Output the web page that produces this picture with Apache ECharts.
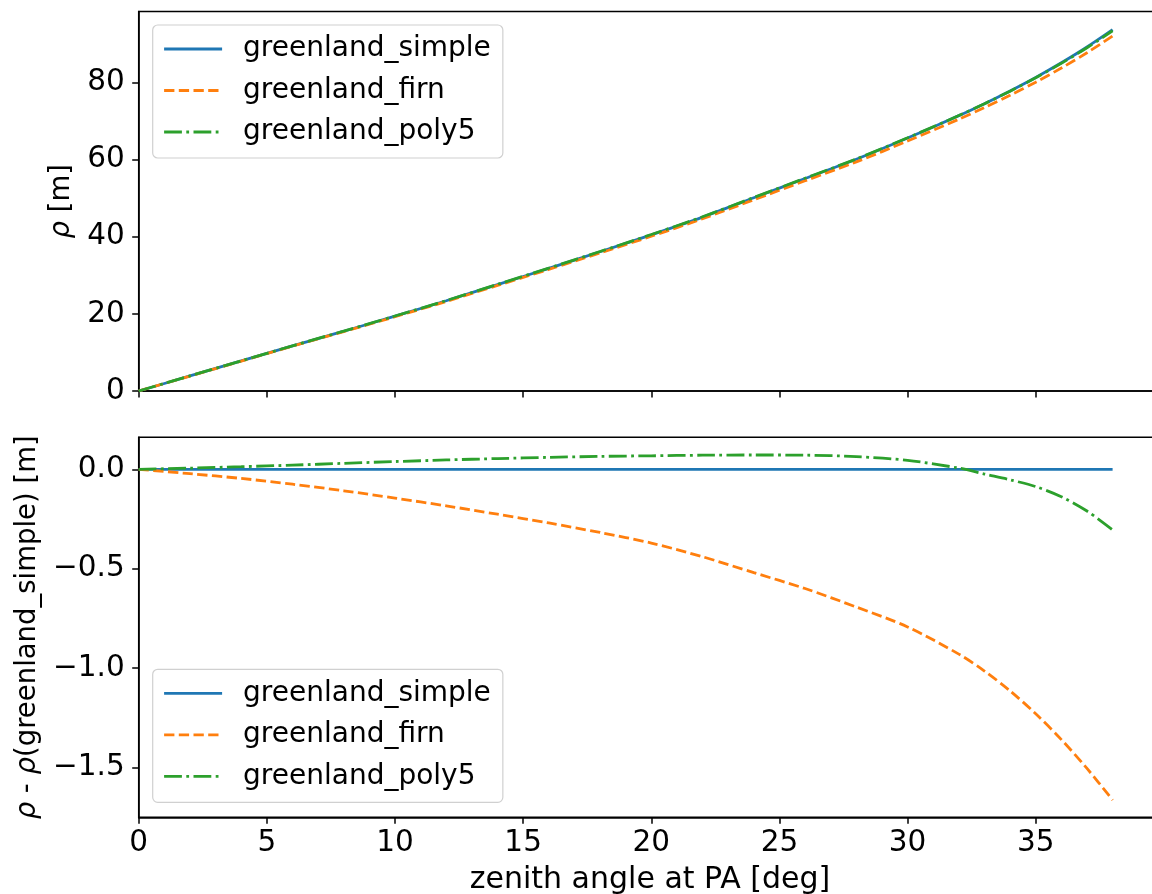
<!DOCTYPE html>
<html>
<head>
<meta charset="utf-8">
<script src="https://cdn.jsdelivr.net/npm/echarts@6/dist/echarts.min.js"></script>
<style>html,body{margin:0;padding:0;background:#fff;}#c{width:1152px;height:894px;}</style>
</head>
<body>
<div id="c"></div>
<script>
// zenith angle at PA [deg]
const zenith = [0,2,4,6,8,10,12,14,16,18,20,22,24,26,28,30,32,33,34,35,36,37,38];
// top panel: rho [m]
const rhoSimple = [0,3.9,7.8,11.7,15.5,19.4,23.4,27.6,31.8,36.1,40.5,45.1,50.1,55.1,60.1,65.6,71.4,74.5,77.8,81.3,85.1,89.2,93.7];
const rhoFirn   = [0,3.88,7.75,11.63,15.39,19.26,23.22,27.37,31.53,35.78,40.13,44.66,49.58,54.50,59.41,64.81,70.47,73.49,76.69,80.07,83.74,87.70,92.04];
const rhoPoly5  = [0,3.91,7.81,11.72,15.53,19.44,23.45,27.65,31.86,36.17,40.57,45.17,50.17,55.17,60.16,65.65,71.41,74.48,77.75,81.21,84.96,88.99,93.40];
// bottom panel: rho - rho(greenland_simple) [m]
const diffSimple = [0,0,0,0,0,0,0,0,0,0,0,0,0,0,0,0,0,0,0,0,0,0,0];
const diffFirn   = [0,-0.022,-0.046,-0.075,-0.108,-0.145,-0.184,-0.226,-0.270,-0.318,-0.371,-0.440,-0.520,-0.600,-0.693,-0.793,-0.930,-1.015,-1.115,-1.230,-1.360,-1.505,-1.664];
const diffPoly5  = [0,0.006,0.013,0.021,0.030,0.039,0.047,0.054,0.060,0.065,0.068,0.071,0.072,0.071,0.064,0.045,0.006,-0.024,-0.053,-0.087,-0.138,-0.210,-0.305];
// ticks
const xTicks = [0,5,10,15,20,25,30,35];
const yTopTicks = [0,20,40,60,80];
const yBotTicks = [-1.5,-1.0,-0.5,0.0];
const names = ['greenland_simple','greenland_firn','greenland_poly5'];
const colors = ['#1f77b4','#ff7f0e','#2ca02c'];

const FONT = 'DejaVu Sans';
const FS_TICK = 29.5;
const FS_XNAME = 30;
const FS_YNAME = 27.5;
const FS_LEG = 28;
const pair = (xs, ys) => xs.map((x,i)=>[x, ys[i]]);

const L = 138.7, W = 1022.6;
const lw = 2.8;
const dashStyles = ['solid', [10.3,4.4], [17.8,4.4,2.8,4.4]];

function xAxis(gi, showLabels){
  return {
    type:'value', gridIndex:gi, min:0, max:39.9,
    axisLine:{show:true, onZero:false, lineStyle:{color:'#000', width:1.5}},
    axisTick:{show:true, length:6.5, inside:false, customValues:xTicks, lineStyle:{color:'#000', width:1.5}},
    axisLabel:{show:showLabels, customValues:xTicks, margin:11, color:'#000', fontFamily:FONT, fontSize:FS_TICK},
    splitLine:{show:false},
    name: showLabels ? 'zenith angle at PA [deg]' : '',
    nameLocation:'middle', nameGap:48,
    nameTextStyle:{color:'#000', fontFamily:FONT, fontSize:FS_XNAME}
  };
}
function yAxis(gi, min, max, ticks, fmt, name, gap){
  return {
    type:'value', gridIndex:gi, min:min, max:max,
    axisLine:{show:true, onZero:false, lineStyle:{color:'#000', width:1.5}},
    axisTick:{show:true, length:6.5, customValues:ticks, lineStyle:{color:'#000', width:1.5}},
    axisLabel:{customValues:ticks, margin:14, color:'#000', fontFamily:FONT, fontSize:FS_TICK, formatter:fmt},
    splitLine:{show:false},
    name:name, nameLocation:'middle', nameGap:gap,
    nameTextStyle:{color:'#000', fontFamily:FONT, fontSize:FS_YNAME,
      rich:{i:{fontFamily:FONT, fontStyle:'italic', fontSize:FS_YNAME, color:'#000'}}}
  };
}
function legend(top){
  return {
    show:true, orient:'vertical', left:152.7, top:top,
    data:names,
    itemWidth:58, itemHeight:14, itemGap:11.5,
    padding:[9,12,11,10],
    backgroundColor:'rgba(255,255,255,0.8)',
    borderColor:'#d0d0d0', borderWidth:1.2, borderRadius:5,
    itemStyle:{color:'rgba(0,0,0,0)', borderColor:'rgba(0,0,0,0)', borderWidth:0, opacity:0},
    lineStyle:{width:lw},
    textStyle:{color:'#000', fontFamily:FONT, fontSize:FS_LEG, lineHeight:30, padding:[0,0,0,16]},
    selectedMode:false
  };
}
function series(i, gi, xs, ys){
  return {
    name:names[i], type:'line', xAxisIndex:gi, yAxisIndex:gi,
    data:pair(xs, ys), showSymbol:false, symbol:'none', smooth:0.3,
    lineStyle:{color:colors[i], width:lw, type:dashStyles[i], cap:'butt'},
    itemStyle:{color:colors[i]},
    clip:true, z:3+i
  };
}
const minus = v => (v<0 ? '\u2212' : '') + Math.abs(v).toFixed(1);

const chart = echarts.init(document.getElementById('c'), null, {renderer:'canvas'});
chart.setOption({
  animation:false,
  backgroundColor:'#fff',
  grid:[
    {left:L, width:W, top:11.5, height:379.5, show:true, borderColor:'#000', borderWidth:1.5, backgroundColor:'transparent', containLabel:false, outerBoundsMode:'none'},
    {left:L, width:W, top:437.3, height:380, show:true, borderColor:'#000', borderWidth:1.5, backgroundColor:'transparent', containLabel:false, outerBoundsMode:'none'}
  ],
  xAxis:[xAxis(0,false), xAxis(1,true)],
  yAxis:[
    yAxis(0, 0, 98.4, yTopTicks, v=>String(v), '{i|ρ} [m]', 61),
    yAxis(1, -1.751, 0.161, yBotTicks, minus, '{i|ρ} - {i|ρ}(greenland_simple) [m]', 96)
  ],
  legend:[legend(25), legend(669.3)],
  series:[
    series(0,0,zenith,rhoSimple), series(1,0,zenith,rhoFirn), series(2,0,zenith,rhoPoly5),
    series(0,1,zenith,diffSimple), series(1,1,zenith,diffFirn), series(2,1,zenith,diffPoly5)
  ]
});
</script>
</body>
</html>
